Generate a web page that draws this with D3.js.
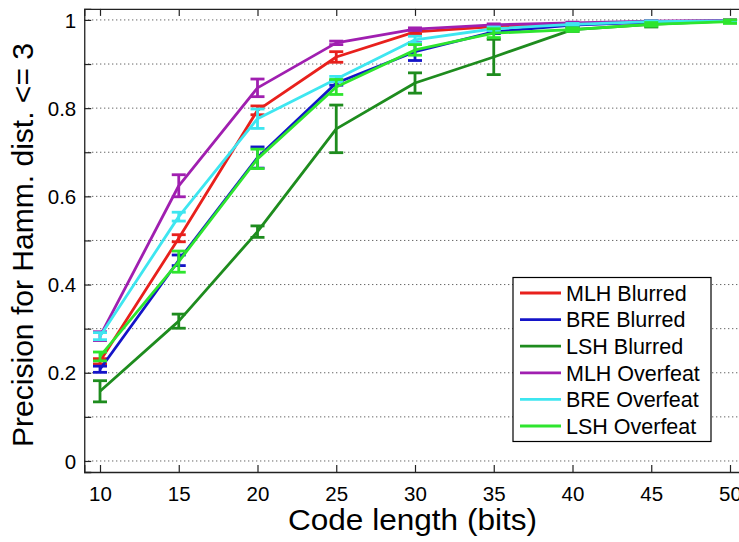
<!DOCTYPE html>
<html><head><meta charset="utf-8">
<script src="https://cdn.jsdelivr.net/npm/d3@7"></script>
<style>body{margin:0;background:#fff;} svg{display:block;}</style>
</head><body><svg id="chart" width="739" height="542"></svg>
<script>
const codeLengths = [10,15,20,25,30,35,40,45,50];
const seriesNames = ["MLH Blurred","BRE Blurred","LSH Blurred","MLH Overfeat","BRE Overfeat","LSH Overfeat"];
const seriesColors = ["#e8201c","#1414c8","#1e8c1e","#a01fb0","#3ee6f0","#2ee52e"];
const mlhBlurred     = [0.226,0.505,0.795,0.916,0.973,0.985,0.990,0.996,0.998];
const mlhBlurredErr  = [0.006,0.008,0.010,0.012,0.005,0.003,0.002,0.002,0.001];
const breBlurred     = [0.208,0.455,0.688,0.857,0.928,0.973,0.988,0.995,0.998];
const breBlurredErr  = [0.007,0.012,0.024,0.005,0.020,0.004,0.002,0.002,0.001];
const lshBlurred     = [0.158,0.317,0.520,0.753,0.857,0.916,0.978,0.990,0.998];
const lshBlurredErr  = [0.024,0.016,0.013,0.054,0.023,0.040,0.004,0.006,0.002];
const mlhOverfeat    = [0.283,0.624,0.846,0.948,0.979,0.989,0.993,0.997,0.999];
const mlhOverfeatErr = [0.010,0.025,0.020,0.004,0.003,0.002,0.002,0.001,0.001];
const breOverfeat    = [0.283,0.554,0.776,0.866,0.955,0.980,0.990,0.996,0.998];
const breOverfeatErr = [0.008,0.010,0.022,0.006,0.008,0.004,0.002,0.002,0.001];
const lshOverfeat    = [0.237,0.452,0.685,0.848,0.932,0.970,0.978,0.990,0.996];
const lshOverfeatErr = [0.010,0.024,0.022,0.017,0.012,0.010,0.004,0.004,0.004];
const xTicks = [10,15,20,25,30,35,40,45,50];
const yTicks = [0,0.1,0.2,0.3,0.4,0.5,0.6,0.7,0.8,0.9,1];
const yTickLabels = ["0","","0.2","","0.4","","0.6","","0.8","","1"];
const xLabel = "Code length (bits)";
const yLabel = "Precision for Hamm. dist. <= 3";

const values = [mlhBlurred,breBlurred,lshBlurred,mlhOverfeat,breOverfeat,lshOverfeat];
const errors = [mlhBlurredErr,breBlurredErr,lshBlurredErr,mlhOverfeatErr,breOverfeatErr,lshOverfeatErr];
const series = seriesNames.map((n,i)=>({name:n,color:seriesColors[i],
  pts:codeLengths.map((x,j)=>({x, y:values[i][j], e:errors[i][j]}))}));

const svg = d3.select("#chart");
const L=84.25, R=745.75, T=8.9, B=472;
const x = d3.scaleLinear().domain([9,51]).range([L,R]);
const y = d3.scaleLinear().domain([-0.025,1.025]).range([B,T]);
const font = "Liberation Sans, Arial, Helvetica, sans-serif";

// grid
svg.append("g").selectAll("line").data(yTicks).join("line")
  .attr("x1",L).attr("x2",R).attr("y1",d=>y(d)).attr("y2",d=>y(d))
  .attr("stroke","#333").attr("stroke-width",1).attr("stroke-dasharray","1,3");

// axes
const tick = 7;
const gx = svg.append("g").attr("transform",`translate(0,${B})`)
  .call(d3.axisBottom(x).tickValues(xTicks).tickSize(-tick).tickPadding(14).tickFormat(d3.format("d")));
const gxt = svg.append("g").attr("transform",`translate(0,${T})`)
  .call(d3.axisTop(x).tickValues(xTicks).tickSize(-tick).tickFormat(""));
const gy = svg.append("g").attr("transform",`translate(${L},0)`)
  .call(d3.axisLeft(y).tickValues(yTicks).tickSize(-tick).tickPadding(8).tickFormat((d,i)=>yTickLabels[i]));
[gx,gxt,gy].forEach(g=>{
  g.selectAll(".domain").attr("stroke","#222").attr("stroke-width",1.3);
  g.selectAll(".tick line").attr("stroke","#222").attr("stroke-width",1.2);
  g.selectAll("text").attr("font-family",font).attr("font-size",20.5).attr("fill","#000");
});
gy.selectAll("text").attr("dy","0.35em");

// lines and error bars
const line = d3.line().x(d=>x(d.x)).y(d=>y(d.y));
const capW = 7;
const sw = 2.8;
series.forEach(s=>{
  const g = svg.append("g");
  g.append("path").datum(s.pts).attr("d",line).attr("fill","none")
    .attr("stroke",s.color).attr("stroke-width",sw).attr("stroke-linejoin","round");
  const eb = g.selectAll("g.eb").data(s.pts).join("g");
  eb.append("line").attr("x1",d=>x(d.x)).attr("x2",d=>x(d.x))
    .attr("y1",d=>y(d.y-d.e)).attr("y2",d=>y(d.y+d.e))
    .attr("stroke",s.color).attr("stroke-width",sw);
  eb.append("line").attr("x1",d=>x(d.x)-capW).attr("x2",d=>x(d.x)+capW)
    .attr("y1",d=>y(d.y-d.e)).attr("y2",d=>y(d.y-d.e))
    .attr("stroke",s.color).attr("stroke-width",sw);
  eb.append("line").attr("x1",d=>x(d.x)-capW).attr("x2",d=>x(d.x)+capW)
    .attr("y1",d=>y(d.y+d.e)).attr("y2",d=>y(d.y+d.e))
    .attr("stroke",s.color).attr("stroke-width",sw);
});

// axis labels
svg.append("text").attr("x",(288+537)/2).attr("y",530).attr("text-anchor","middle")
  .attr("font-family",font).attr("font-size",30)
  .attr("textLength",249).attr("lengthAdjust","spacingAndGlyphs").text(xLabel);
svg.append("text").attr("transform","translate(33,245) rotate(-90)").attr("text-anchor","middle")
  .attr("font-family",font).attr("font-size",29)
  .attr("textLength",404).attr("lengthAdjust","spacingAndGlyphs").text(yLabel);

// legend
const lg = svg.append("g");
lg.append("rect").attr("x",513).attr("y",277.5).attr("width",198).attr("height",164)
  .attr("fill","#fff").attr("stroke","#000").attr("stroke-width",1.2);
const ly = d3.scalePoint().domain(seriesNames).range([293,426]);
series.forEach(s=>{
  lg.append("line").attr("x1",520).attr("x2",561).attr("y1",ly(s.name)).attr("y2",ly(s.name))
    .attr("stroke",s.color).attr("stroke-width",sw);
  lg.append("text").attr("x",566).attr("y",ly(s.name)).attr("dy","0.36em")
    .attr("font-family",font).attr("font-size",21.5).text(s.name);
});
</script></body></html>
